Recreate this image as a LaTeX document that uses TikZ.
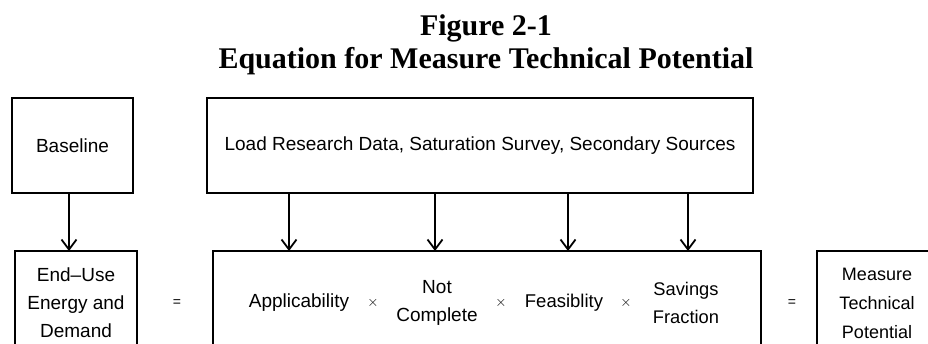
\documentclass[tikz,border=0pt]{standalone}
\usepackage{fontspec}
\setmainfont{Liberation Sans}
\newfontfamily\titlefont{Liberation Serif}
\usetikzlibrary{arrows.meta}
\begin{document}
\begin{tikzpicture}[x=1pt,y=-1pt,
  box/.style={draw=black,line width=1.4pt,inner sep=0pt,align=center,
    font=\fontsize{19}{28}\selectfont},
  term/.style={inner sep=0pt,align=center,font=\fontsize{19}{28}\selectfont},
  op/.style={inner sep=0pt,font=\fontsize{14}{16}\selectfont},
  arr/.style={line width=1.8pt,-{Straight Barb[length=10pt,width=15pt,line width=1.8pt]}},
  ttl/.style={inner sep=0pt,anchor=base,font=\titlefont\bfseries\fontsize{30}{33}\selectfont}]
\fill[white] (0,0) rectangle (928,343);
\clip (0,0) rectangle (928,343);

% title
\node[ttl] (title1) at (486,35) {Figure 2-1};
\node[ttl] (title2) at (486,68) {Equation for Measure Technical Potential};

% data sources
\node[box,minimum width=121pt,minimum height=95pt] (baseline) at (72.5,145.5) {Baseline};
\node[box,minimum width=546pt,minimum height=95pt] (load) at (480,145.5)
  {Load Research Data, Saturation Survey, Secondary Sources};

% equation row
\node[box,minimum width=122pt,minimum height=104pt] (enduse) at (76,303)
  {End--Use\\Energy and\\Demand};
\node[op] (eq1) at (177,303) {=};
\node[box,minimum width=548pt,minimum height=104pt] (factors) at (487,303) {};
\node[term] (appl) at (299,303) {Applicability};
\node[op] (x1) at (373,303) {$\times$};
\node[term] (notc) at (437,303) {Not\\Complete};
\node[op] (x2) at (501,303) {$\times$};
\node[term,font=\fontsize{18.5}{28}\selectfont] (feas) at (564,303) {Feasiblity};
\node[op] (x3) at (626,303) {$\times$};
\node[term,font=\fontsize{18.3}{28}\selectfont] (savf) at (686,303) {Savings\\Fraction};
\node[op] (eq2) at (792,303) {=};
\node[box,font=\fontsize{18}{29}\selectfont,minimum width=120pt,minimum height=104pt] (mtp) at (877,303)
  {Measure\\Technical\\Potential};

% arrow targets on the top edges
\coordinate (t0) at (69,251);
\coordinate (t1) at (289,251);
\coordinate (t2) at (435,251);
\coordinate (t3) at (568,251);
\coordinate (t4) at (688,251);

\draw[arr] (baseline.south -| t0) -- (t0);
\draw[arr] (load.south -| t1) -- (t1);
\draw[arr] (load.south -| t2) -- (t2);
\draw[arr] (load.south -| t3) -- (t3);
\draw[arr] (load.south -| t4) -- (t4);
\end{tikzpicture}
\end{document}
